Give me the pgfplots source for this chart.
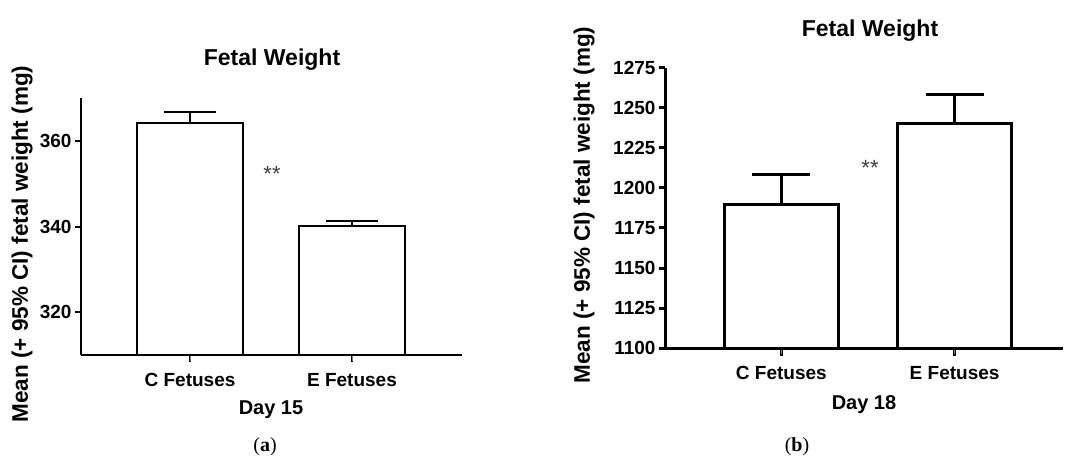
\documentclass[border=0pt]{standalone}
\usepackage{fontspec}
\setmainfont{Liberation Sans}
\newfontfamily\capfont{Liberation Serif}
\usepackage{pgfplots}
\pgfplotsset{compat=1.18}

\pgfplotsset{
  fetal/.style={
    scale only axis,
    axis on top,
    clip mode=individual,
    axis x line=bottom, axis y line=left,
    axis line style={-},
    xtick={0,1}, xticklabels={C Fetuses, E Fetuses},
    xtick align=outside, ytick align=outside,
    major tick length=6pt,
    tick label style={font=\fontsize{19}{22}\selectfont\bfseries},
    xticklabel style={yshift=-9pt},
    /pgf/number format/assume math mode=true,
    /pgf/number format/1000 sep={},
  },
}

\begin{document}
\begin{tikzpicture}
\useasboundingbox (0,0) rectangle (1065pt,-457pt);

% (a) day 15
\begin{axis}[fetal,
    at={(81pt,-355pt)}, anchor=south west,
    width=381pt, height=257pt,
    xmin=-0.673, xmax=1.679,
    ymin=310, ymax=370,
    ytick={320,340,360},
    axis line style={line width=2pt},
    ytick style={line width=2pt, black},
]
\addplot[ybar, bar width=106pt, fill=white, draw=black, line width=2pt,
    error bars/.cd, y dir=plus, y explicit,
    error bar style={line width=2pt, black},
    error mark options={rotate=90, mark size=26pt, line width=2pt, black}]
    coordinates {(0,364.2) +- (0,2.6) (1,340.2) +- (0,1.0)};
% category ticks
\draw[line width=2pt] (axis cs:0,310) -- ++(0pt,-7pt);
\draw[line width=2pt] (axis cs:1,310) -- ++(0pt,-7pt);
\end{axis}

% (b) day 18
\begin{axis}[fetal,
    at={(665pt,-348pt)}, anchor=south west,
    width=398pt, height=280pt,
    xmin=-0.672, xmax=1.626,
    ymin=1100, ymax=1275,
    ytick={1100,1125,...,1275},
    axis line style={line width=3pt},
    ytick style={line width=3pt, black},
]
\addplot[ybar, bar width=114pt, fill=white, draw=black, line width=3pt,
    error bars/.cd, y dir=plus, y explicit,
    error bar style={line width=2.5pt, black},
    error mark options={rotate=90, mark size=29pt, line width=2.5pt, black}]
    coordinates {(0,1189.5) +- (0,19.0) (1,1240.4) +- (0,18.0)};
% category ticks
\draw[line width=3pt] (axis cs:0,1100) -- ++(0pt,-8pt);
\draw[line width=3pt] (axis cs:1,1100) -- ++(0pt,-8pt);
\end{axis}

\def\ttl{\fontsize{23}{26}\selectfont\bfseries}
\def\lbl{\fontsize{22.5}{25}\selectfont\bfseries}
\def\dlbl{\fontsize{20}{24}\selectfont\bfseries}

\node[anchor=base] at (272pt,-66pt) {\ttl Fetal Weight};
\node[anchor=base] at (870pt,-36.5pt) {\ttl Fetal Weight};

\node[rotate=90] at (22pt,-244pt) {\lbl Mean (+ 95\% CI) fetal weight (mg)};
\node[rotate=90] at (584pt,-205pt) {\lbl Mean (+ 95\% CI) fetal weight (mg)};

\node[anchor=base] at (271pt,-414pt) {\dlbl Day 15};
\node[anchor=base] at (864pt,-409pt) {\dlbl Day 18};

\node[anchor=base, text=black!75] at (272pt,-182pt) {\fontsize{22}{24}\selectfont **};
\node[anchor=base, text=black!75] at (870pt,-176pt) {\fontsize{22}{24}\selectfont **};

\node[anchor=base] at (265pt,-451pt) {\capfont\fontsize{20}{24}\selectfont (\textbf{a})};
\node[anchor=base] at (797pt,-451pt) {\capfont\fontsize{20}{24}\selectfont (\textbf{b})};
\end{tikzpicture}
\end{document}
